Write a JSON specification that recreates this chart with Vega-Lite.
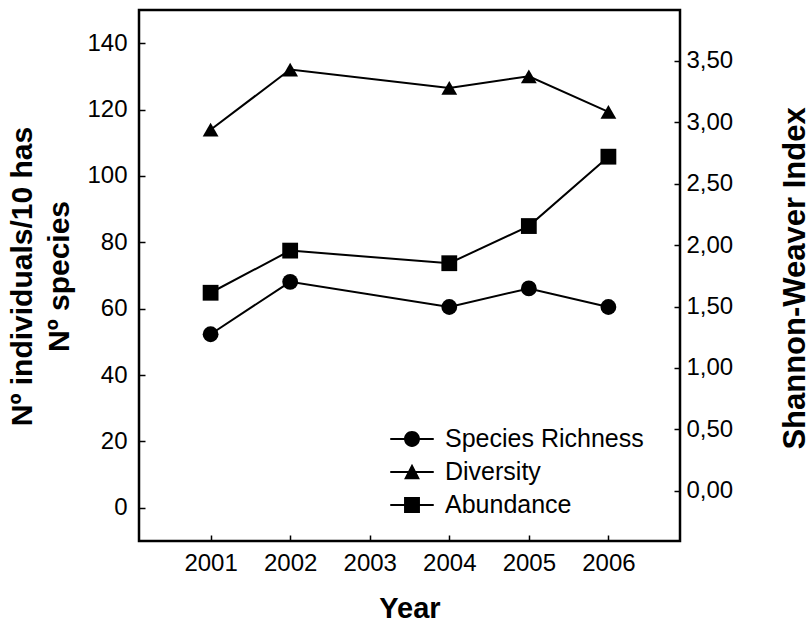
{
  "$schema": "https://vega.github.io/schema/vega-lite/v6.json",
  "width": 541,
  "height": 531,
  "autosize": {"type": "none"},
  "padding": {"left": 139, "top": 10, "right": 127, "bottom": 80},
  "background": "white",
  "config": {
    "font": "Liberation Sans",
    "view": {"stroke": "black", "strokeWidth": 2.5},
    "axis": {"grid": false, "domain": false, "labelFont": "Liberation Sans", "labelFontSize": 24, "labelColor": "black", "tickColor": "black", "tickWidth": 1.5, "titleFont": "Liberation Sans", "titleColor": "black", "titleFontWeight": "bold", "titleFontSize": 30}
  },
  "data": {
    "values": [
      {"year": 2001, "series": "Species Richness", "value": 52.3},
      {"year": 2002, "series": "Species Richness", "value": 68.1},
      {"year": 2004, "series": "Species Richness", "value": 60.5},
      {"year": 2005, "series": "Species Richness", "value": 66.1},
      {"year": 2006, "series": "Species Richness", "value": 60.5},
      {"year": 2001, "series": "Abundance", "value": 64.8},
      {"year": 2002, "series": "Abundance", "value": 77.5},
      {"year": 2004, "series": "Abundance", "value": 73.7},
      {"year": 2005, "series": "Abundance", "value": 84.9},
      {"year": 2006, "series": "Abundance", "value": 105.8},
      {"year": 2001, "series": "Diversity", "value": 2.94},
      {"year": 2002, "series": "Diversity", "value": 3.43},
      {"year": 2004, "series": "Diversity", "value": 3.28},
      {"year": 2005, "series": "Diversity", "value": 3.375},
      {"year": 2006, "series": "Diversity", "value": 3.085}
    ]
  },
  "encoding": {
    "x": {
      "field": "year",
      "type": "quantitative",
      "scale": {"domain": [2000.1, 2006.9], "nice": false, "zero": false},
      "axis": {"title": "Year", "values": [2001, 2002, 2003, 2004, 2005, 2006], "format": "d", "tickSize": -6, "labelPadding": 16, "titleFontSize": 29, "titleBaseline": "alphabetic", "titleX": 270.5, "titleY": 76}
    }
  },
  "layer": [
    {
      "transform": [{"filter": "datum.series != 'Diversity'"}],
      "encoding": {
        "y": {
          "field": "value",
          "type": "quantitative",
          "scale": {"domain": [-10, 150], "nice": false, "zero": false},
          "axis": {"orient": "left", "values": [0, 20, 40, 60, 80, 100, 120, 140], "format": "d", "tickSize": -6, "labelPadding": 18, "title": ["Nº individuals/10 has", "Nº species"], "titleAngle": -90, "titleAlign": "center", "titleBaseline": "alphabetic", "titleLineHeight": 37, "titleX": -108, "titleY": 266}
        }
      },
      "layer": [
        {"mark": {"type": "line", "color": "black", "strokeWidth": 2}, "encoding": {"detail": {"field": "series"}}},
        {
          "transform": [{"filter": "datum.series == 'Species Richness'"}],
          "mark": {"type": "point", "shape": "circle", "filled": true, "color": "black", "opacity": 1, "size": 250}
        },
        {
          "transform": [{"filter": "datum.series == 'Abundance'"}],
          "mark": {"type": "point", "shape": "square", "filled": true, "color": "black", "opacity": 1, "size": 250}
        },
        {
          "mark": {"type": "point", "filled": true, "color": "black", "size": 0},
          "encoding": {
            "shape": {
              "field": "series",
              "type": "nominal",
              "scale": {
                "domain": ["Species Richness", "Diversity", "Abundance"],
                "range": [
                  "M-1.45,-0.067L1.45,-0.067L1.45,0.067L-1.45,0.067ZM-0.53,0A0.53,0.53,0,1,1,0.53,0A0.53,0.53,0,1,1,-0.53,0Z",
                  "M-1.45,-0.067L1.45,-0.067L1.45,0.067L-1.45,0.067ZM0,-0.55L0.53,0.49L-0.53,0.49Z",
                  "M-1.45,-0.067L1.45,-0.067L1.45,0.067L-1.45,0.067ZM-0.53,-0.53L0.53,-0.53L0.53,0.53L-0.53,0.53Z"
                ]
              },
              "legend": {
                "orient": "none", "legendX": 257, "legendY": 413, "title": null, "padding": 0,
                "symbolSize": 900, "labelFontSize": 25, "labelFont": "Liberation Sans", "labelColor": "black", "labelOffset": 17, "labelLimit": 400, "rowPadding": 4,
                "symbolFillColor": "black", "symbolOpacity": 1
              }
            }
          }
        }
      ]
    },
    {
      "transform": [{"filter": "datum.series == 'Diversity'"}],
      "encoding": {
        "y": {
          "field": "value",
          "type": "quantitative",
          "scale": {"domain": [-0.41, 3.915], "nice": false, "zero": false},
          "axis": {"orient": "right", "values": [0, 0.5, 1, 1.5, 2, 2.5, 3, 3.5], "labelExpr": "replace(format(datum.value, '.2f'), '.', ',')", "tickSize": -6, "labelPadding": 12, "title": "Shannon-Weaver Index", "titleFontSize": 31, "titleAngle": -90, "titleAlign": "center", "titleBaseline": "alphabetic", "titleX": 124, "titleY": 268}
        }
      },
      "layer": [
        {"mark": {"type": "line", "color": "black", "strokeWidth": 2}, "encoding": {}},
        {"mark": {"type": "point", "shape": "triangle-up", "filled": true, "color": "black", "opacity": 1, "size": 250}, "encoding": {}}
      ]
    }
  ],
  "resolve": {"scale": {"y": "independent"}}
}
